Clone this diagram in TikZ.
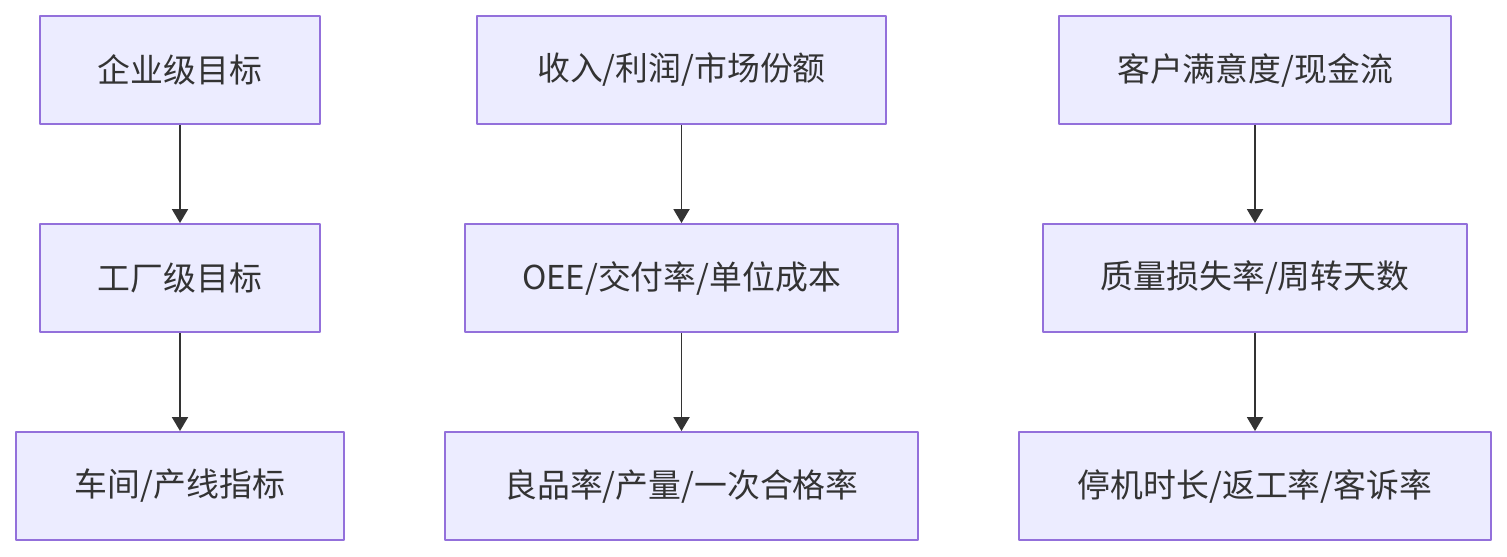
\documentclass[tikz,border=0pt]{standalone}
\usepackage{fontspec}
\setmainfont{Noto Sans CJK SC}
\usetikzlibrary{arrows.meta}
\definecolor{boxfill}{HTML}{ECECFF}
\definecolor{boxline}{HTML}{9370DB}
\definecolor{inkgray}{HTML}{333333}
\tikzset{
	goalbox/.style={draw=boxline, fill=boxfill, line width=1.1pt, minimum height=2.16cm,
		text=inkgray, font=\fontsize{18.7}{20}\selectfont, inner sep=0pt},
	flow/.style={draw=inkgray, line width=1.1pt, -{Triangle[width=0.32cm,length=0.28cm]}}
}
\begin{document}
\begin{tikzpicture}[x=0.02cm, y=-0.02cm, line join=round]
	\useasboundingbox (0,0) rectangle (1507,556);
	% left column
	\node[goalbox, minimum width=5.6cm]  (corp)  at (180,70)  {企业级目标};
	\node[goalbox, minimum width=5.6cm]  (plant) at (180,278) {工厂级目标};
	\node[goalbox, minimum width=6.56cm] (line)  at (180,486) {车间/产线指标};
	% middle column
	\node[goalbox, minimum width=8.18cm] (fin)   at (681.5,70)  {收入/利润/市场份额};
	\node[goalbox, minimum width=8.66cm] (oee)   at (681.5,278) {OEE/交付率/单位成本};
	\node[goalbox, minimum width=9.46cm] (yield) at (681.5,486) {良品率/产量/一次合格率};
	% right column
	\node[goalbox, minimum width=7.84cm] (cust)  at (1255,70)  {客户满意度/现金流};
	\node[goalbox, minimum width=8.48cm] (qual)  at (1255,278) {质量损失率/周转天数};
	\node[goalbox, minimum width=9.44cm] (down)  at (1255,486) {停机时长/返工率/客诉率};
	
	\draw[flow] (corp) -- (plant);
	\draw[flow] (plant) -- (line);
	\draw[flow] (fin) -- (oee);
	\draw[flow] (oee) -- (yield);
	\draw[flow] (cust) -- (qual);
	\draw[flow] (qual) -- (down);
	
\end{tikzpicture}
\end{document}
